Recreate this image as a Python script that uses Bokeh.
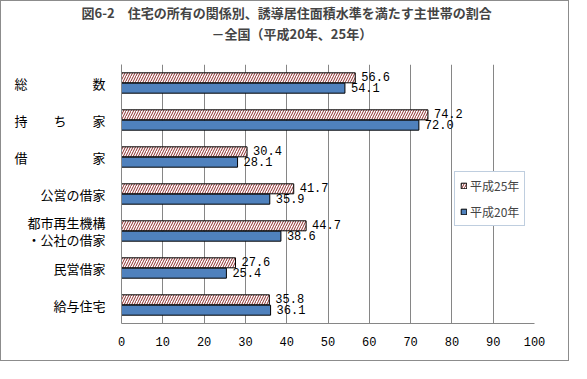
from bokeh.plotting import figure
from bokeh.models import (FactorRange, Range1d, Legend, LegendItem, Title,
                          ColumnDataSource, FixedTicker)
from bokeh.transform import dodge
from bokeh.embed import file_html
from bokeh.resources import INLINE
from bokeh.core.properties import value

# ---- data ----
categories = ["総　　　　　数", "持　　ち　　家", "借　　　　　家", "公営の借家",
              "都市再生機構\n・公社の借家", "民営借家", "給与住宅"]
h25 = [56.6, 74.2, 30.4, 41.7, 44.7, 27.6, 35.8]
h20 = [54.1, 72.0, 28.1, 35.9, 38.6, 25.4, 36.1]
series_names = ["平成25年", "平成20年"]
x_ticks = [0, 10, 20, 30, 40, 50, 60, 70, 80, 90, 100]
title_line1 = "図6-2　住宅の所有の関係別、誘導居住面積水準を満たす主世帯の割合"
title_line2 = "－全国（平成20年、25年）"

JP = "Noto Sans CJK JP"
NUM = "Liberation Mono"

source = ColumnDataSource(dict(
    cat=categories, h25=h25, h20=h20,
    h25_lbl=[f"{v:.1f}" for v in h25],
    h20_lbl=[f"{v:.1f}" for v in h20],
))

p = figure(y_range=FactorRange(factors=list(reversed(categories))),
           x_range=Range1d(0, 100), width=569, height=361,
           output_backend="svg", toolbar_location=None, title=None,
           min_border_left=120, min_border_right=36,
           min_border_top=60, min_border_bottom=39)
p.styles = {"border": "1px solid #8c8c8c"}
p.outline_line_color = None
p.background_fill_color = "white"
p.border_fill_color = "white"

off = 0.14
bh = 0.27
r25 = p.hbar(y=dodge("cat", off, range=p.y_range), right="h25", left=0, height=bh,
             fill_color="white", hatch_pattern="/", hatch_color="#8B2A2A",
             hatch_scale=5, hatch_weight=1, line_color="black", line_width=1,
             source=source)
r20 = p.hbar(y=dodge("cat", -off, range=p.y_range), right="h20", left=0, height=bh,
             fill_color="#4F81BD", line_color="black", line_width=1, source=source)

p.text(x="h25", y=dodge("cat", off, range=p.y_range), text="h25_lbl", source=source,
       x_offset=6, y_offset=-1, text_baseline="middle", text_align="left",
       text_font=value(NUM), text_font_size="12px", text_color="black")
p.text(x="h20", y=dodge("cat", -off, range=p.y_range), text="h20_lbl", source=source,
       x_offset=6, y_offset=-1, text_baseline="middle", text_align="left",
       text_font=value(NUM), text_font_size="12px", text_color="black")

# axes
p.xaxis.ticker = FixedTicker(ticks=x_ticks)
p.xaxis.axis_line_color = "#868686"
p.xaxis.major_tick_line_color = None
p.xaxis.minor_tick_line_color = None
p.xaxis.major_label_text_font = NUM
p.xaxis.major_label_text_font_size = "12px"
p.xaxis.major_label_text_color = "black"
p.xaxis.major_label_standoff = 7

p.yaxis.axis_line_color = "#868686"
p.yaxis.major_tick_line_color = None
p.yaxis.minor_tick_line_color = None
p.yaxis.major_label_text_font = JP
p.yaxis.major_label_text_font_size = "13px"
p.yaxis.major_label_text_color = "black"
p.yaxis.major_label_text_line_height = 0.85
p.yaxis.major_label_standoff = 10

p.xgrid.grid_line_color = "#868686"
p.ygrid.grid_line_color = None

legend = Legend(items=[LegendItem(label=series_names[0], renderers=[r25]),
                       LegendItem(label=series_names[1], renderers=[r20])],
                location=(333, 97), border_line_color="#7F9DC0",
                background_fill_color="white", background_fill_alpha=1,
                label_text_font=JP, label_text_font_size="12px",
                glyph_width=7, glyph_height=7, label_standoff=3,
                padding=5, spacing=9, margin=0, label_height=16, label_width=10)
p.add_layout(legend, "center")

# title: spacer next to the frame, then the two title lines
p.add_layout(Title(text=" ", text_font_size="9px", standoff=9), "above")
p.add_layout(Title(text=title_line2, align="left", text_font=JP,
                   text_font_size="13px", text_font_style="bold",
                   offset=90, standoff=0, vertical_align="middle"), "above")
p.add_layout(Title(text=title_line1, align="left", text_font=JP,
                   text_font_size="13px", text_font_style="bold",
                   offset=-40, standoff=0, vertical_align="middle"), "above")

open("out.html", "w").write(file_html(p, INLINE))
